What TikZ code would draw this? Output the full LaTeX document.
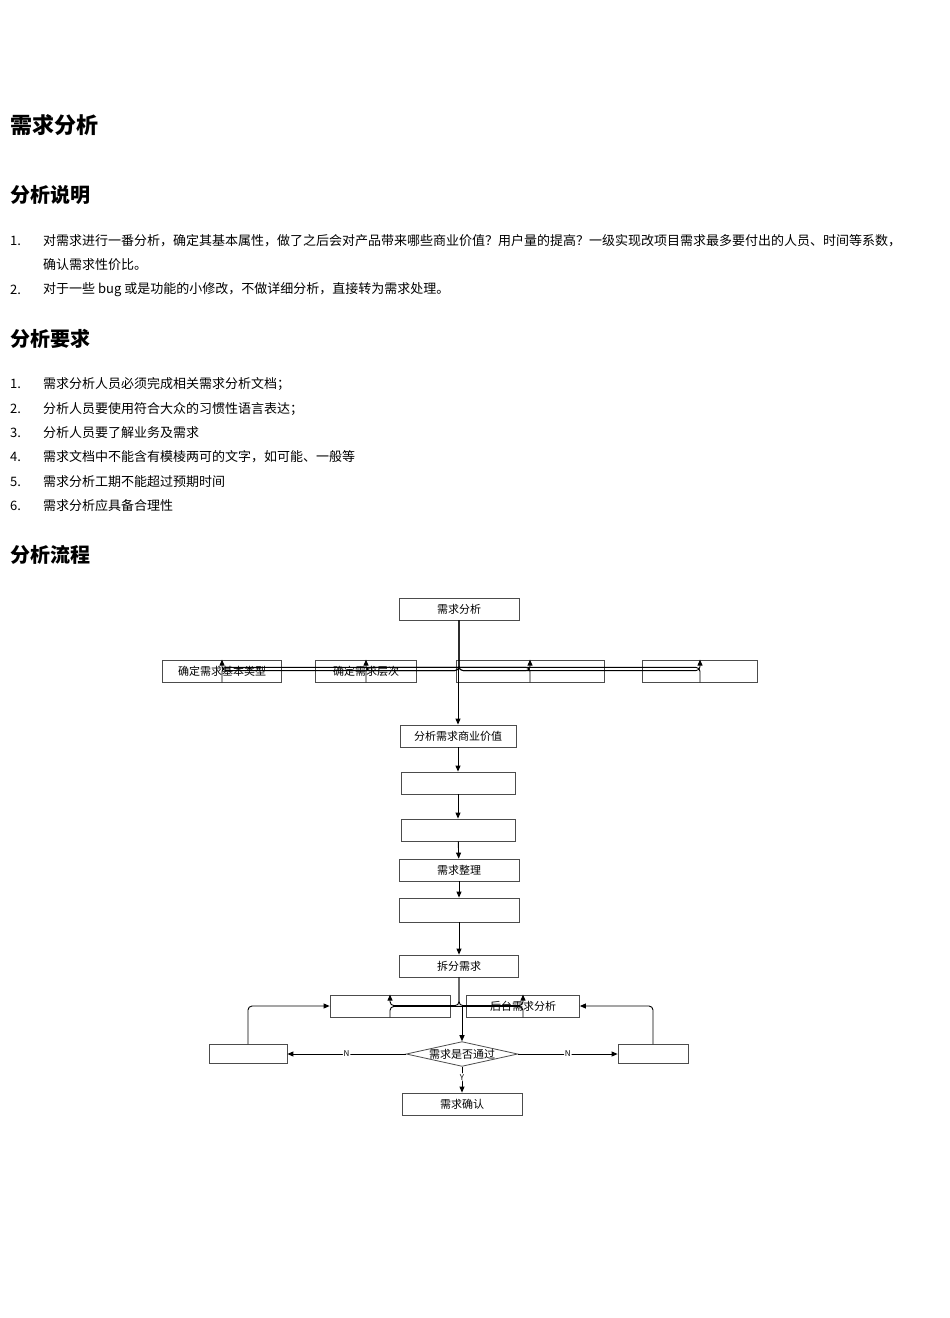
\documentclass[tikz,border=0pt]{standalone}
\usepackage{fontspec}
\setmainfont{Noto Sans CJK SC}
\usetikzlibrary{arrows.meta,shapes.geometric}
\begin{document}
\begin{tikzpicture}[x=1pt,y=-1pt,
  txt/.style={anchor=west,inner sep=0,font=\fontsize{13}{15}\selectfont},
  hd/.style={anchor=west,inner sep=0,font=\fontsize{20}{24}\selectfont\bfseries},
  bx/.style={draw=black!70,line width=0.8pt,fill=white,minimum height=22pt,inner sep=0,font=\fontsize{11}{13}\selectfont},
  ln/.style={line width=0.9pt,rounded corners=4pt},
  ar/.style={ln,-{Triangle[length=6pt,width=5pt]}},
  lb/.style={font=\fontsize{8}{9}\selectfont,fill=white,inner sep=1pt}]
\useasboundingbox (0,0) rectangle (950,1318);
\fill[white] (0,0) rectangle (950,1318);
\node[hd,font=\fontsize{22}{26}\selectfont\bfseries] (t) at (10,125) {需求分析};
\node[hd] (h1) at (10,195) {分析说明};
\node[txt] (n1) at (10,241) {1.};
\node[txt] (l1) at (43,241) {对需求进行一番分析，确定其基本属性，做了之后会对产品带来哪些商业价值？用户量的提高？一级实现改项目需求最多要付出的人员、时间等系数，};
\node[txt] (l1b) at (43,265) {确认需求性价比。};
\node[txt] (n2) at (10,290) {2.};
\node[txt] (l2) at (43,290) {对于一些 bug 或是功能的小修改，不做详细分析，直接转为需求处理。};
\node[hd] (h2) at (10,339) {分析要求};
\foreach \i/\y/\s in {1/384/需求分析人员必须完成相关需求分析文档；,2/409/分析人员要使用符合大众的习惯性语言表达；,3/433/分析人员要了解业务及需求,4/457/需求文档中不能含有模棱两可的文字，如可能、一般等,5/482/需求分析工期不能超过预期时间,6/506/需求分析应具备合理性}{
  \node[txt] (m\i) at (10,\y) {\i.};
  \node[txt] (r\i) at (43,\y) {\s};}
\node[hd] (h3) at (10,555) {分析流程};
% flowchart
\node[bx,minimum width=120pt] (a) at (459,609) {需求分析};
\node[bx,minimum width=119pt] (b1) at (222,671) {确定需求基本类型};
\node[bx,minimum width=101pt] (b2) at (366,671) {确定需求层次};
\node[bx,minimum width=148pt] (b3) at (530,671) {};
\node[bx,minimum width=115pt] (b4) at (700,671) {};
\node[bx,minimum width=116pt] (c) at (458,736) {分析需求商业价值};
\node[bx,minimum width=114pt] (d) at (458,783) {};
\node[bx,minimum width=114pt] (e) at (458,830) {};
\node[bx,minimum width=120pt] (f) at (459,870) {需求整理};
\node[bx,minimum width=120pt,minimum height=24pt] (g) at (459,910) {};
\node[bx,minimum width=119pt] (h) at (459,966) {拆分需求};
\node[bx,minimum width=120pt] (i1) at (390,1006) {};
\node[bx,minimum width=113pt] (i2) at (523,1006) {后台需求分析};
\node[draw=black!70,line width=0.8pt,diamond,aspect=4.5,minimum width=100pt,minimum height=22pt,inner sep=0,font=\fontsize{11}{13}\selectfont] (k) at (462,1054) {需求是否通过};
\node[bx,minimum width=78pt,minimum height=19pt] (jl) at (248,1054) {};
\node[bx,minimum width=70pt,minimum height=19pt] (jr) at (653,1054) {};
\node[bx,minimum width=120pt] (z) at (462,1104) {需求确认};
% connectors
\foreach \n in {b1,b2,b3,b4}{\draw[ar] (a.south) |- ([yshift=-11pt]\n.north) -- (\n.north);}
\foreach \n in {b1,b2,b3,b4}{\draw[ln] (\n.south) |- ([yshift=15pt]b1.south -| c.north);}
\draw[ar] ([yshift=15pt]b1.south -| c.north) -- (c.north);
\draw[ar] (c) -- (d);
\draw[ar] (d) -- (e);
\draw[ar] (e) -- (f);
\draw[ar] (f) -- (g);
\draw[ar] (g) -- (h);
\draw[ar] (h.south) |- ([yshift=-11pt]i1.north) -- (i1.north);
\draw[ar] (h.south) |- ([yshift=-11pt]i2.north) -- (i2.north);
\draw[ln] (i1.south) |- ([yshift=11pt]i1.south -| k.north);
\draw[ln] (i2.south) |- ([yshift=11pt]i1.south -| k.north);
\draw[ar] ([yshift=11pt]i1.south -| k.north) -- (k.north);
\draw[ar] (k.west) -- node[lb]{N} (jl.east);
\draw[ar] (k.east) -- node[lb]{N} (jr.west);
\draw[ar] (k.south) -- node[lb,pos=0.4]{Y} (z.north);
\draw[ar] (jl.north) |- (i1.west);
\draw[ar] (jr.north) |- (i2.east);
\end{tikzpicture}
\end{document}
